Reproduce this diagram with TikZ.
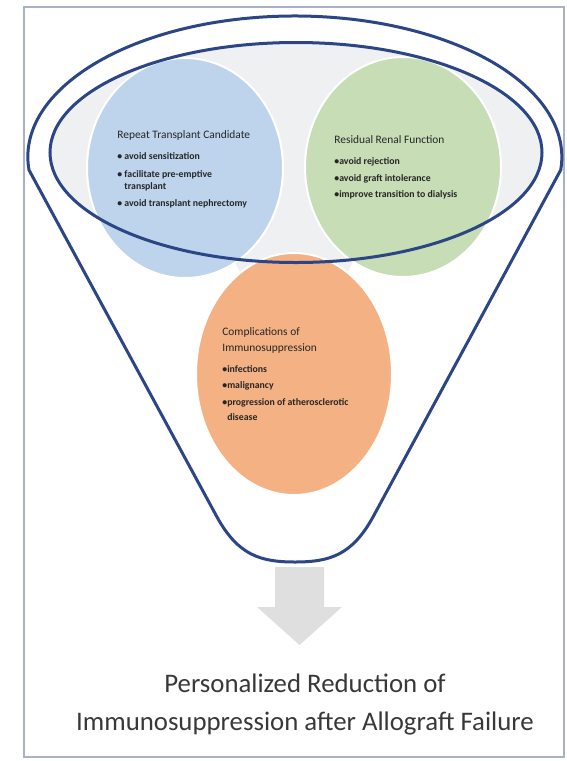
\documentclass[tikz,border=0pt]{standalone}
\usepackage{fontspec}
\setmainfont{Carlito}
\usetikzlibrary{shapes.geometric}
\definecolor{funnelblue}{HTML}{2B4585}
\definecolor{repeatblue}{HTML}{BDD4EC}
\definecolor{renalgreen}{HTML}{C6DDB6}
\definecolor{complorange}{HTML}{F4B183}
\definecolor{backgray}{HTML}{EEF0F1}
\definecolor{framegray}{HTML}{A9B1C7}
\definecolor{arrowgray}{HTML}{DFDFDF}
\definecolor{textdark}{HTML}{262626}
\begin{document}
\begin{tikzpicture}[x=0.5pt, y=-0.5pt,
  bubble/.style={ellipse, draw=white, line width=1pt, inner sep=0pt,
    minimum width=98pt, minimum height=110pt},
  title/.style={anchor=west, inner sep=0pt, text=textdark,
    text height=4pt, text depth=1.2pt, font=\fontsize{5.7}{7}\selectfont},
  item/.style={anchor=west, inner sep=0pt, text=textdark,
    text height=3.3pt, text depth=1pt, font=\fontsize{4.9}{6}\selectfont\bfseries},
  funnel/.style={draw=funnelblue, line width=1.5pt}]
\useasboundingbox (0,0) rectangle (567,761);
\draw [framegray, line width=0.8pt] (24,7) rectangle (564,757);
% grey ground behind the three circles
\fill [backgray] (296,152.5) ellipse [x radius=246, y radius=110];
\fill [backgray] (185,168) -- (403,167) -- (294,374) -- cycle;
\node [bubble, fill=repeatblue] (repeat) at (185,168) {};
\node [bubble, fill=renalgreen] (renal) at (403,167) {};
\node [bubble, fill=complorange, minimum height=121pt] (compl) at (294,374) {};
% texts
\node [title] (repeat-title) at (117,136) {Repeat Transplant Candidate};
\foreach \t/\y [count=\i] in {{\textbullet\ avoid sensitization}/157,
    {\textbullet\ facilitate pre-emptive}/175, {\phantom{\textbullet\ }transplant}/187,
    {\textbullet\ avoid transplant nephrectomy}/204}
  \node [item] (repeat-\i) at (117,\y) {\t};
\node [title] (renal-title) at (334,141) {Residual Renal Function};
\foreach \t/\y [count=\i] in {avoid rejection/162, avoid graft intolerance/179,
    improve transition to dialysis/195}
  \node [item] (renal-\i) at (334,\y) {\textbullet\t};
\node [title] (compl-title-1) at (222,333) {Complications of};
\node [title] (compl-title-2) at (222,349) {Immunosuppression};
\foreach \t/\y [count=\i] in {{\textbullet infections}/370, {\textbullet malignancy}/386,
    {\textbullet progression of atherosclerotic}/403, {\phantom{\textbullet}disease}/418}
  \node [item] (compl-\i) at (222,\y) {\t};
% funnel
\draw [funnel] (296,152.5) ellipse [x radius=246, y radius=110];
\draw [funnel] (29,170) arc [start angle=174.7, end angle=365.3, x radius=267, y radius=141]
  -- (373,517) .. controls (352,555) and (330,562) .. (295,562)
  .. controls (260,562) and (238,555) .. (217,517) -- cycle;
% outcome
\fill [arrowgray] (275,567) -- (324,567) -- (324,607) -- (342,607) -- (299.5,645)
  -- (257,607) -- (275,607) -- cycle;
\node [align=center, inner sep=0pt, text=black!78, font=\fontsize{13.4}{19}\selectfont]
  (result) at (305,704) {Personalized Reduction of\\Immunosuppression after Allograft Failure};
\end{tikzpicture}
\end{document}
